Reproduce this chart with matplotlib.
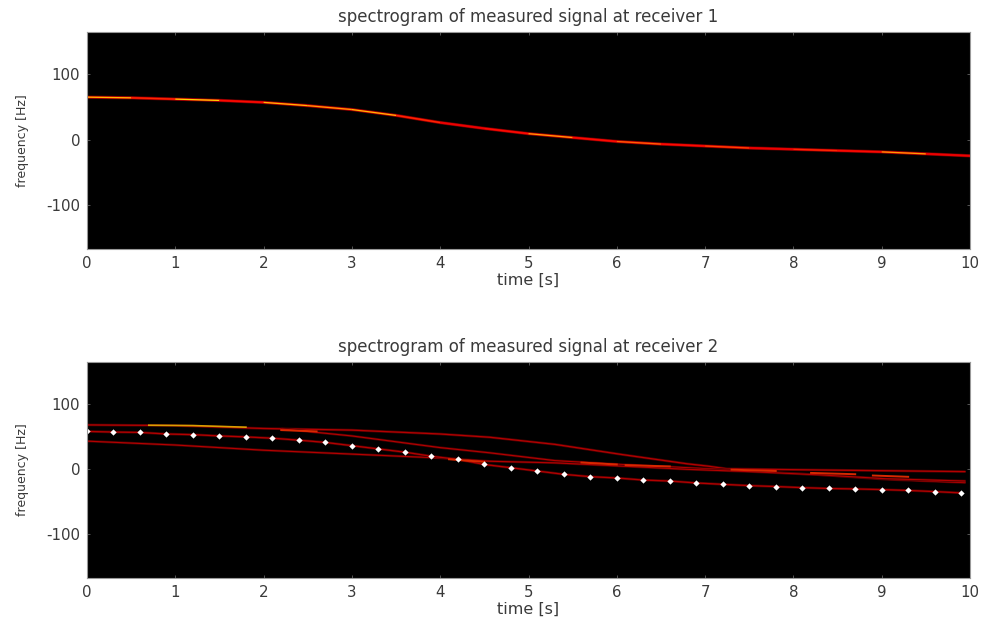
import numpy as np
import matplotlib
matplotlib.use("Agg")
import matplotlib.pyplot as plt

plt.rcParams['font.family'] = ['DejaVu Sans']
plt.rcParams['axes.unicode_minus'] = False

# receiver 1 ridge
t_rx1 = [0, 0.5, 1, 1.5, 2, 2.5, 3, 3.5, 4, 4.5, 5, 5.5, 6, 6.5, 7, 7.5, 8, 8.5, 9, 9.5, 10]
f_rx1 = [65, 64, 62, 60, 57, 52, 46, 37, 26, 17, 9, 3, -3, -7, -10, -13, -15, -17, -19, -22, -25]
hot_rx1 = [0.75, 0.5, 0.8, 0.45, 0.75, 0.7, 0.75, 0.5, 0.4, 0.45, 0.7, 0.45, 0.6, 0.45, 0.55, 0.4, 0.5, 0.45, 0.7, 0.4, 0.5]

# receiver 2 paths
t_top = [0, 1, 2, 3, 4, 4.56, 5.3, 6.05, 6.8, 7.03, 7.25, 8.3, 9.95]
f_top = [68, 67, 62.5, 60, 54, 49, 38, 22.5, 8, 4.5, 0.3, -1.5, -4]

t_mid = [2.2, 3, 4, 4.56, 5.3, 6.05, 6.8, 7.5, 8.3, 9.05, 9.95]
f_mid = [62, 51, 33, 25, 13, 7, 2, -3, -9, -16, -21]

t_low = [0, 1, 2, 3, 4, 4.56, 5.3, 6.05, 6.8, 7.5, 8.3, 9.05, 9.95]
f_low = [43, 37, 29, 23, 17, 12, 9.5, 4.5, -0.5, -4, -9, -15, -18.5]

# tracked path, white markers
t_track = [0, 0.3, 0.6, 0.9, 1.2, 1.5, 1.8, 2.1, 2.4, 2.7, 3.0, 3.3, 3.6, 3.9, 4.2, 4.5, 4.8,
           5.1, 5.4, 5.7, 6.0, 6.3, 6.6, 6.9, 7.2, 7.5, 7.8, 8.1, 8.4, 8.7, 9.0, 9.3, 9.6, 9.9]
f_track = [58, 57, 56.4, 54, 53, 51, 49.5, 47.5, 44.5, 41, 36, 31, 26, 19.7, 14.8, 7, 2,
           -3.1, -8.2, -11.8, -13.8, -17, -18.5, -21.5, -23.6, -25.6, -27, -28.7, -30, -30.7,
           -31.7, -33, -34.8, -36.8]

# bright stretches in receiver 2
t_yellow = [0.7, 1.2, 1.8]
f_yellow = [67.5, 67, 64.5]
t_orange = [[2.2, 2.6], [4.1, 4.5], [5.6, 6.0], [6.1, 6.6], [7.3, 7.8], [8.2, 8.7], [8.9, 9.3]]
f_orange = [[60, 58], [15, 11], [10, 7], [6, 4], [-1, -3], [-6, -8], [-10, -12]]

xticks = [0, 1, 2, 3, 4, 5, 6, 7, 8, 9, 10]
yticks = [-100, 0, 100]
text_col = "#3a3a3a"


def style(ax, title):
    ax.set_facecolor("black")
    ax.set_xlim(0, 10)
    ax.set_ylim(-168, 165)
    ax.set_xticks(xticks)
    ax.set_yticks(yticks)
    ax.tick_params(direction="in", length=2.5, width=0.5, color="#777777", top=True, right=True,
                   labelsize=10.8, labelcolor=text_col, pad=5)
    for s in ax.spines.values():
        s.set_color("#999999")
        s.set_linewidth(0.8)
    ax.set_title(title, fontsize=12, color=text_col, pad=7)
    ax.set_xlabel("time [s]", fontsize=11.5, color=text_col, labelpad=1)
    ax.set_ylabel("frequency [Hz]", fontsize=9, color=text_col, labelpad=12)


def ridge(ax, t, f, lw=0.8):
    ax.plot(t, f, color="#480000", lw=lw + 1.0, solid_capstyle="butt")
    ax.plot(t, f, color="#b40000", lw=lw, solid_capstyle="butt")


fig = plt.figure(figsize=(9.81, 6.21), dpi=100)
ax1 = fig.add_axes([87 / 981, 1 - 249 / 621, 883 / 981, 217 / 621])
ax2 = fig.add_axes([87 / 981, 1 - 578 / 621, 883 / 981, 216 / 621])

ax1.plot(t_rx1, f_rx1, color="#600000", lw=2.4, solid_capstyle="butt")
ax1.plot(t_rx1, f_rx1, color="#d80000", lw=1.6, solid_capstyle="butt")
for i in range(len(t_rx1) - 1):
    lvl = hot_rx1[i]
    ax1.plot(t_rx1[i:i + 2], f_rx1[i:i + 2], color=plt.cm.hot(lvl * 0.85), lw=0.9,
             solid_capstyle="butt")
style(ax1, "spectrogram of measured signal at receiver 1")

ridge(ax2, t_top, f_top, 0.9)
ridge(ax2, t_mid, f_mid, 0.8)
ridge(ax2, t_low, f_low, 0.8)
ridge(ax2, t_track, f_track, 0.9)
ax2.plot(t_yellow, f_yellow, color="#d8a000", lw=1.2)
for a, b in zip(t_orange, f_orange):
    ax2.plot(a, b, color="#d82800", lw=1.4)
ax2.plot(t_track, f_track, ls="none", marker="D", ms=3.2, mfc="white", mec="white", mew=0)
style(ax2, "spectrogram of measured signal at receiver 2")

fig.savefig("out.png", dpi=100)
